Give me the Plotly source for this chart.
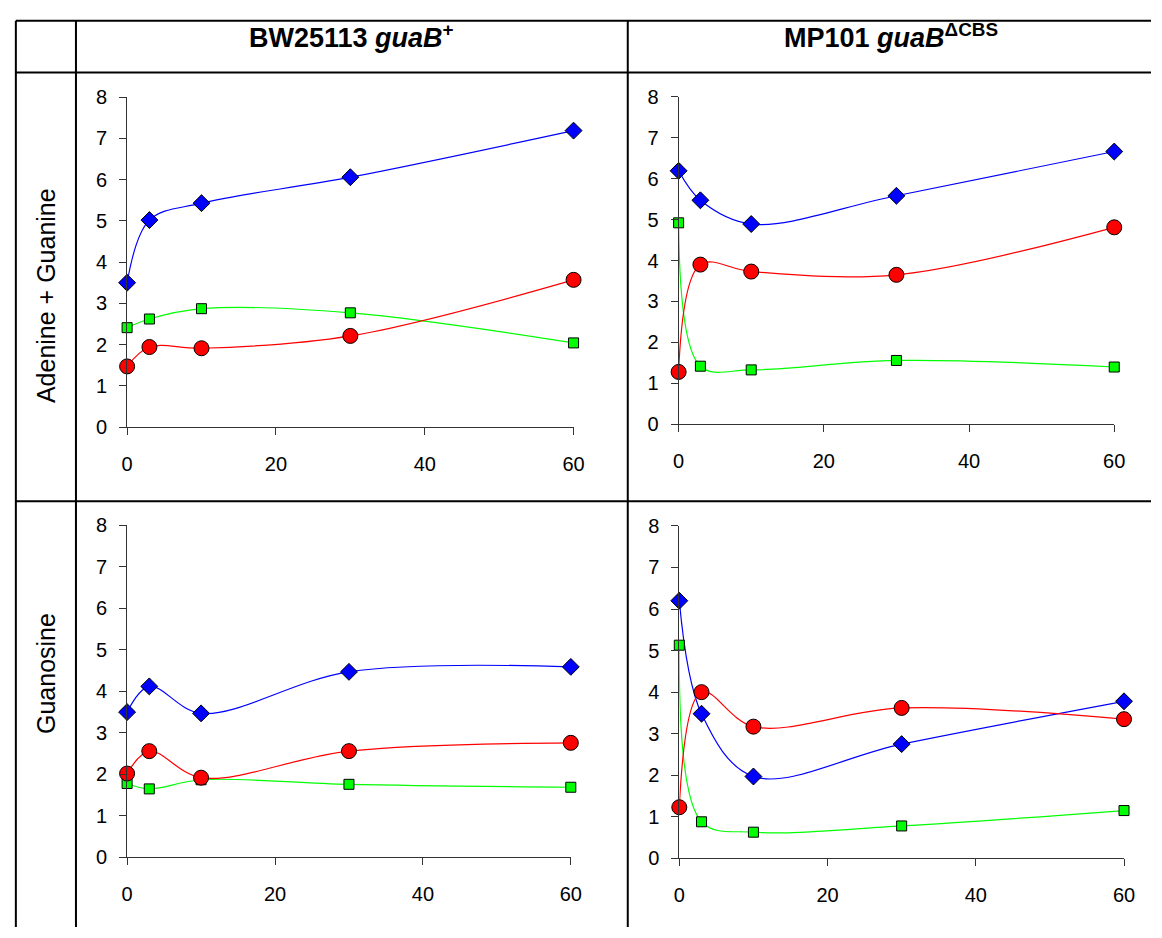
import plotly.graph_objects as go

W, H = 1162, 938

time_min = [0, 3, 10, 30, 60]
x_tick_vals = [0, 20, 40, 60]
y_tick_vals = [0, 1, 2, 3, 4, 5, 6, 7, 8]

col_headers = ["<b>BW25113 <i>guaB</i><sup>+</sup></b>", "<b>MP101 <i>guaB</i><sup>ΔCBS</sup></b>"]
row_labels = ["Adenine + Guanine", "Guanosine"]

# BW25113, Adenine + Guanine
bw_ag_blue = [3.50, 5.02, 5.43, 6.06, 7.19]
bw_ag_red = [1.47, 1.94, 1.91, 2.21, 3.57]
bw_ag_green = [2.41, 2.62, 2.87, 2.77, 2.04]
# MP101, Adenine + Guanine
mp_ag_blue = [6.19, 5.47, 4.89, 5.58, 6.66]
mp_ag_red = [1.28, 3.90, 3.73, 3.65, 4.81]
mp_ag_green = [4.92, 1.42, 1.33, 1.56, 1.40]
# BW25113, Guanosine
bw_gs_blue = [3.50, 4.12, 3.47, 4.47, 4.59]
bw_gs_red = [2.02, 2.56, 1.92, 2.56, 2.76]
bw_gs_green = [1.78, 1.65, 1.87, 1.76, 1.69]
# MP101, Guanosine
mp_gs_blue = [6.20, 3.48, 1.97, 2.75, 3.78]
mp_gs_red = [1.23, 4.00, 3.17, 3.62, 3.35]
mp_gs_green = [5.13, 0.88, 0.63, 0.78, 1.15]

panels = [
    (bw_ag_blue, bw_ag_green, bw_ag_red),
    (mp_ag_blue, mp_ag_green, mp_ag_red),
    (bw_gs_blue, bw_gs_green, bw_gs_red),
    (mp_gs_blue, mp_gs_green, mp_gs_red),
]

def px(x):
    return x / W

def py(y):
    return 1 - y / H

# plot areas in pixels: (left, right, top, bottom)
areas = [
    (122.9, 576.0, 88.3, 426.0),
    (682.6, 1124.7, 87.7, 423.3),
    (122.9, 573.2, 526.7, 866.7),
    (683.3, 1134.6, 527.3, 867.7),
]

fig = go.Figure()
font_family = "Liberation Sans, Arial, sans-serif"

styles = [
    dict(color="#0000FF", symbol="diamond", size=13),
    dict(color="#00FF00", symbol="square", size=10),
    dict(color="#FF0000", symbol="circle", size=15),
]

layout = {}
for i, (series, area) in enumerate(zip(panels, areas)):
    n = "" if i == 0 else str(i + 1)
    for vals, st in zip(series, styles):
        fig.add_trace(go.Scatter(
            x=time_min, y=vals, mode="lines+markers",
            xaxis="x" + n, yaxis="y" + n,
            line=dict(color=st["color"], width=1.2, shape="spline", smoothing=1.0),
            marker=dict(symbol=st["symbol"], size=st["size"], color=st["color"],
                        line=dict(color="#000000", width=1)),
            cliponaxis=False, showlegend=False, hoverinfo="skip",
        ))
    l, r, t, b = area
    layout["xaxis" + n] = dict(
        domain=[px(l), px(r)], anchor="y" + n, range=[0, 60],
        tickvals=x_tick_vals, ticks="outside", ticklen=7, tickwidth=1, tickcolor="#333",
        showline=True, linecolor="#333", linewidth=1, showgrid=False, zeroline=False,
        tickfont=dict(size=20, color="#000", family=font_family), ticklabelstandoff=12,
        fixedrange=True,
    )
    layout["yaxis" + n] = dict(
        domain=[py(b), py(t)], anchor="x" + n, range=[0, 8],
        tickvals=y_tick_vals, ticks="outside", ticklen=7, tickwidth=1, tickcolor="#333",
        showline=True, linecolor="#333", linewidth=1, showgrid=False, zeroline=False,
        tickfont=dict(size=20, color="#000", family=font_family), ticklabelstandoff=8,
        fixedrange=True,
    )

shapes = []
line = dict(color="#000", width=2)
for y in [10, 63, 502]:
    shapes.append(dict(type="line", xref="paper", yref="paper",
                       x0=px(10), x1=1, y0=py(y), y1=py(y), line=line))
for x in [10, 71, 631]:
    shapes.append(dict(type="line", xref="paper", yref="paper",
                       x0=px(x), x1=px(x), y0=py(10), y1=0, line=line))

annotations = []
for text, cx in zip(col_headers, [351, 898]):
    annotations.append(dict(text=text, x=px(cx), y=py(26), xref="paper", yref="paper",
                            showarrow=False, xanchor="center", yanchor="middle",
                            font=dict(size=27, color="#000", family=font_family)))
for text, cy in zip(row_labels, [291, 678]):
    annotations.append(dict(text=text, x=px(40.5), y=py(cy), xref="paper", yref="paper",
                            showarrow=False, xanchor="center", yanchor="middle", textangle=-90,
                            font=dict(size=25, color="#000", family=font_family)))

fig.update_layout(
    width=W, height=H, margin=dict(l=0, r=0, t=0, b=0),
    paper_bgcolor="#FFFFFF", plot_bgcolor="rgba(0,0,0,0)",
    shapes=shapes, annotations=annotations, **layout,
)

fig.write_html("out.html", config={"displayModeBar": False})
